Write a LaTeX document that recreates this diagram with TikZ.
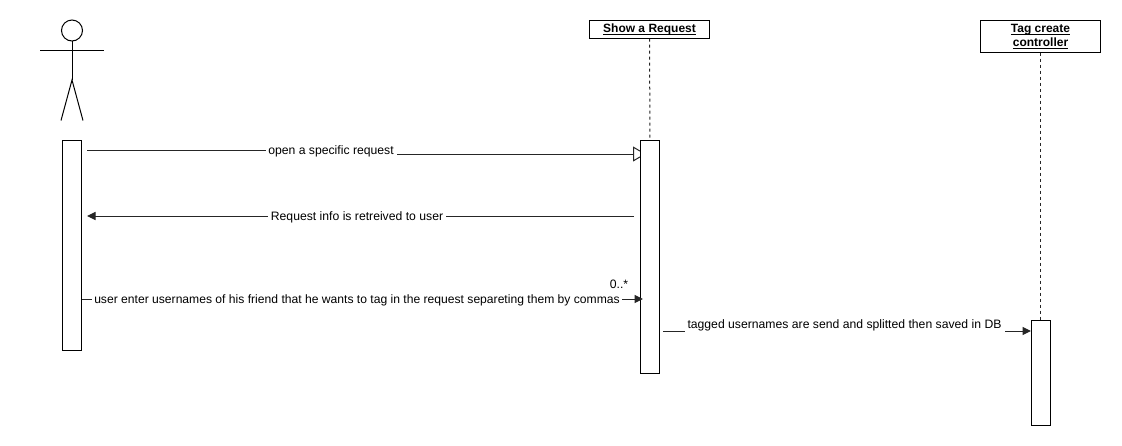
\documentclass[tikz,border=0pt]{standalone}
\usepackage{fontspec}
\setmainfont{Liberation Sans}
\usetikzlibrary{arrows.meta,backgrounds}
\newcommand\ulbar[1]{\setbox0\hbox{#1}\rlap{\rule[-1.9pt]{\wd0}{0.9pt}}\box0 }
\tikzset{
  x=1pt,y=-1pt,
  every node/.style={font=\fontsize{12.2}{14}\selectfont,outer sep=0pt},
  bar/.style={draw=black,fill=white,line width=1pt,minimum width=19pt,inner sep=0pt,anchor=north west},
  headbox/.style={draw=black,fill=white,line width=1pt,minimum width=120pt,inner sep=0pt,anchor=north west,align=center,font=\fontsize{12}{14}\selectfont\bfseries},
  msg/.style={line width=1pt,draw=black!85},
  solidtip/.style={msg,-{Triangle[length=8.5pt,width=8pt]}},
  opentip/.style={msg,-{Triangle[open,fill=white,length=13pt,width=15pt]}},
  lbl/.style={fill=white,inner sep=2pt},
  lifeline/.style={line width=1pt,draw=black!85,dash pattern=on 3pt off 3pt},
  stick/.style={line width=1pt,draw=black},
}
\begin{document}
\begin{tikzpicture}
\useasboundingbox (0,0) rectangle (1122,445);
% actor
\node[circle,draw=black,line width=1pt,minimum size=21pt,inner sep=0pt] (actorhead) at (72,30.5) {};
\coordinate (armL) at (40,50.5);
\coordinate (armR) at (104,50.5);
\coordinate (hip) at (72,80);
\coordinate (footL) at (61,120.5);
\coordinate (footR) at (83,120.5);
\draw[stick] (actorhead.south) -- (hip);
\draw[stick] (armL) -- (armR);
\draw[stick] (footL) -- (hip) -- (footR);
% heads
\node[headbox,minimum height=18pt] (showhead) at (589.5,20.5) {\ulbar{Show a Request}};
\node[headbox,minimum height=32pt] (taghead) at (980.5,20.5) {\ulbar{Tag create}\\\ulbar{controller}};
% activation bars
\node[bar,minimum height=210pt] (actorbar) at (62.5,140.5) {};
\node[bar,minimum height=232.5pt] (showbar) at (640.5,140.5) {};
\node[bar,minimum height=105pt] (tagbar) at (1031,320.5) {};
% message 1 and lifelines pass behind the bars
\node[lbl] (m1) at (331,151) {open a specific request};
\coordinate (m1a) at (87,150);
\coordinate (m1b) at (397,154);
\begin{scope}[on background layer]
\draw[lifeline] (showhead.south) -- (showbar.north);
\draw[lifeline] (taghead.south) -- (tagbar.north);
\draw[opentip] (m1b) -- ([xshift=5.5pt]showbar.west |- m1b);
\end{scope}
\draw[msg] (m1a) -- (m1a -| m1.west);
% message 2
\coordinate (m2a) at (634,216);
\coordinate (m2b) at (87,216);
\draw[solidtip] (m2a) -- (m2b);
\node[lbl,inner xsep=3pt] (m2) at (357,217) {Request info is retreived to user};
% message 3
\coordinate (m3a) at (82,299);
\coordinate (m3b) at (643,299);
\draw[solidtip] (m3a) -- (m3b);
\node[lbl,font=\fontsize{12.12}{14}\selectfont] (m3) at (357,300) {user enter usernames of his friend that he wants to tag in the request separeting them by commas};
\node[inner sep=0pt] (m3card) at (619,284) {0..*};
% message 4
\node[inner sep=0pt] (m4) at (844.5,325) {tagged usernames are send and splitted then saved in DB};
\coordinate (m4a) at (663,331);
\coordinate (m4b) at (685,331);
\coordinate (m4c) at (1005,331);
\draw[msg] (m4a) -- (m4b);
\draw[solidtip] (m4c) -- (tagbar.west |- m4c);
\end{tikzpicture}
\end{document}
